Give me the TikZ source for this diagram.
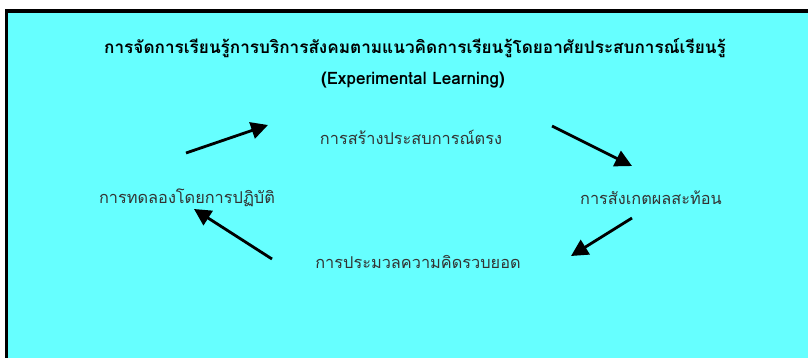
\documentclass[tikz,border=0pt]{standalone}
\usepackage{fontspec}
\setmainfont[Script=Thai]{Loma}
\usepackage{xcolor}
\usetikzlibrary{arrows.meta}
\definecolor{nenfa}{RGB}{102,255,255}

\begin{document}
\begin{tikzpicture}[x=0.025cm, y=-0.025cm,
	khung/.style={fill=nenfa, draw=black, line width=2.2pt},
	nhan/.style={text=black!80, font=\fontsize{11.6}{14}\selectfont, inner sep=0pt},
	tieude/.style={text=black, font=\bfseries\fontsize{12.2}{15}\selectfont, inner sep=0pt},
	muiten/.style={-{Triangle[length=12pt, width=12pt]}, line width=2pt}]
			% Khung nen
			\clip (0,0) rectangle (808,357);
			\draw [khung] (6.5,11) rectangle (840,400);
			% Tieu de
			\node [tieude] (tieude1) at (415,48) {การจัดการเรียนรู้การบริการสังคมตามแนวคิดการเรียนรู้โดยอาศัยประสบการณ์เรียนรู้};
			\node [tieude] (tieude2) at (413,80) {(Experimental Learning)};
			% Cac buoc
			\node [nhan] (tao) at (411,137) {การสร้างประสบการณ์ตรง};
			\node [nhan] (quansat) at (651,198) {การสังเกตผลสะท้อน};
			\node [nhan] (tonghop) at (418,262) {การประมวลความคิดรวบยอด};
			\node [nhan] (thunghiem) at (187,198) {การทดลองโดยการปฏิบัติ};
			% Diem dau mui ten
			\coordinate (a1) at (186,153);
			\coordinate (b1) at (268,125);
			\coordinate (a2) at (552,126);
			\coordinate (b2) at (632,166);
			\coordinate (a3) at (632,218);
			\coordinate (b3) at (571,256);
			\coordinate (a4) at (272,259);
			\coordinate (b4) at (194,209);
			% Ve mui ten
			\draw [muiten] (a1) -- (b1);
			\draw [muiten] (a2) -- (b2);
			\draw [muiten] (a3) -- (b3);
			\draw [muiten] (a4) -- (b4);
		\end{tikzpicture}
\end{document}
